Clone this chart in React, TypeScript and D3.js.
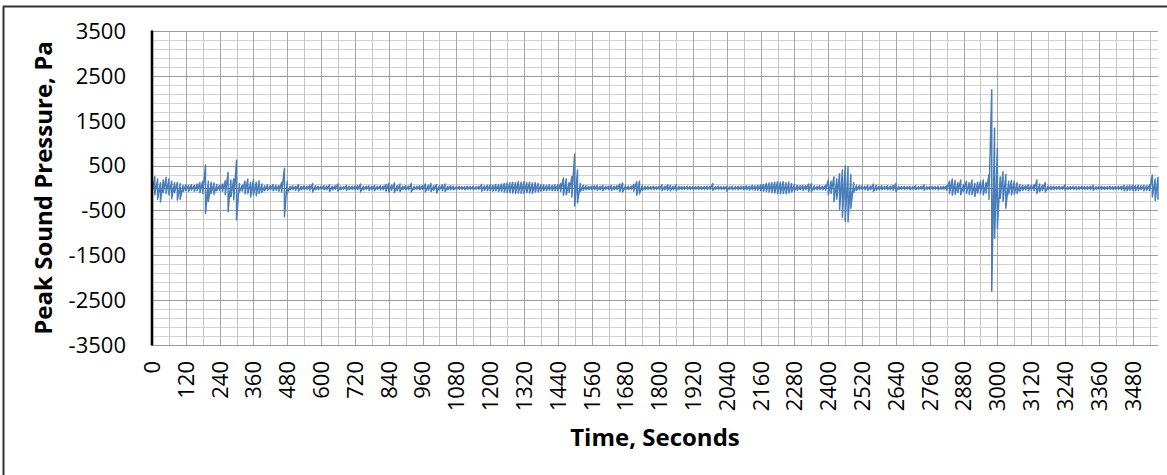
import React from "react";
import * as d3 from "d3";

// Tick values / labels
const yTickValues = [-3500, -2500, -1500, -500, 500, 1500, 2500, 3500];
const xTickLabels = [0, 120, 240, 360, 480, 600, 720, 840, 960, 1080, 1200, 1320, 1440, 1560, 1680, 1800, 1920, 2040, 2160, 2280, 2400, 2520, 2640, 2760, 2880, 3000, 3120, 3240, 3360, 3480];

// Recording: peak (max / min) sound pressure in Pa per 10-second bucket
const bucketSeconds = 10;
const peakHigh = [
  150, 250, 200, 120, 180, 240, 200, 150, 120, 125, 100, 60,
  70, 60, 80, 60, 90, 120, 150, 510, 150, 130, 110, 80,
  60, 90, 160, 350, 180, 200, 620, 100, 60, 150, 200, 120,
  180, 130, 160, 90, 50, 70, 50, 80, 60, 50, 120, 440,
  150, 40, 50, 40, 80, 40, 50, 40, 60, 100, 50, 40,
  40, 50, 40, 70, 40, 50, 90, 40, 30, 60, 40, 40,
  40, 50, 90, 40, 40, 50, 40, 60, 40, 50, 40, 80,
  100, 60, 110, 50, 90, 40, 50, 40, 100, 40, 40, 50,
  50, 90, 60, 100, 50, 80, 50, 70, 90, 40, 50, 40,
  30, 40, 30, 30, 40, 30, 40, 30, 40, 80, 50, 60,
  70, 60, 80, 70, 90, 100, 110, 120, 130, 120, 140, 130,
  140, 120, 130, 110, 120, 100, 80, 70, 60, 70, 60, 70,
  70, 100, 220, 200, 120, 250, 760, 400, 100, 60, 50, 40,
  40, 50, 60, 40, 60, 40, 40, 60, 40, 50, 90, 110,
  50, 40, 40, 80, 140, 150, 60, 40, 40, 30, 40, 30,
  40, 70, 40, 70, 60, 40, 70, 40, 30, 30, 40, 30,
  30, 30, 40, 30, 30, 40, 30, 100, 30, 40, 30, 30,
  40, 30, 40, 30, 40, 40, 40, 50, 40, 60, 50, 60,
  70, 80, 100, 110, 120, 130, 140, 130, 140, 120, 130, 100,
  80, 60, 50, 60, 50, 90, 100, 50, 40, 50, 40, 60,
  180, 150, 250, 200, 320, 400, 490, 470, 300, 120, 60, 50,
  50, 40, 60, 40, 90, 60, 40, 50, 40, 50, 40, 60,
  100, 40, 30, 40, 30, 40, 30, 50, 30, 40, 70, 30,
  30, 40, 30, 40, 30, 40, 50, 150, 200, 170, 120, 180,
  80, 150, 120, 180, 100, 130, 150, 180, 120, 300, 2190, 1330,
  880, 250, 360, 300, 150, 170, 150, 120, 80, 60, 50, 70,
  60, 70, 180, 90, 60, 120, 50, 40, 40, 30, 40, 30,
  70, 30, 30, 40, 30, 30, 40, 30, 30, 40, 60, 30,
  30, 40, 30, 30, 40, 30, 30, 40, 40, 60, 50, 60,
  60, 50, 60, 50, 60, 50, 70, 290, 200, 240,
];
const peakLow = [
  -120, -150, -250, -310, -100, -120, -150, -240, -100, -270, -250, -80,
  -60, -80, -50, -70, -60, -100, -120, -570, -300, -120, -140, -60,
  -50, -80, -150, -530, -200, -260, -710, -90, -70, -130, -120, -200,
  -150, -170, -120, -100, -60, -50, -40, -60, -50, -70, -90, -640,
  -120, -40, -40, -50, -70, -40, -40, -30, -50, -90, -40, -40,
  -30, -40, -40, -80, -40, -30, -70, -40, -30, -50, -40, -30,
  -40, -40, -90, -40, -30, -50, -40, -60, -30, -40, -40, -70,
  -90, -50, -100, -60, -80, -40, -40, -40, -90, -40, -30, -40,
  -40, -90, -50, -80, -50, -110, -40, -60, -80, -40, -40, -40,
  -30, -30, -30, -40, -30, -30, -40, -30, -30, -70, -50, -60,
  -60, -70, -60, -80, -70, -90, -100, -100, -110, -120, -110, -120,
  -120, -100, -110, -120, -90, -90, -70, -60, -60, -50, -60, -60,
  -60, -80, -160, -150, -100, -200, -400, -330, -80, -50, -40, -40,
  -40, -40, -50, -40, -60, -30, -40, -50, -40, -40, -80, -90,
  -40, -40, -30, -70, -160, -130, -50, -40, -30, -30, -30, -30,
  -30, -60, -40, -50, -60, -40, -60, -30, -30, -30, -30, -30,
  -30, -30, -30, -30, -30, -30, -30, -50, -30, -30, -30, -30,
  -70, -30, -40, -30, -40, -30, -40, -40, -50, -40, -50, -50,
  -60, -70, -80, -90, -100, -110, -120, -130, -120, -130, -110, -90,
  -70, -50, -40, -50, -40, -80, -90, -40, -40, -40, -40, -50,
  -155, -120, -305, -250, -480, -650, -740, -760, -450, -100, -50, -40,
  -40, -40, -50, -40, -80, -50, -40, -40, -30, -40, -40, -50,
  -80, -30, -30, -30, -30, -40, -30, -40, -30, -30, -50, -30,
  -30, -30, -30, -40, -30, -30, -50, -120, -160, -140, -100, -150,
  -70, -120, -140, -150, -190, -110, -120, -150, -110, -250, -2300, -1120,
  -900, -230, -300, -450, -130, -150, -140, -120, -70, -50, -40, -60,
  -50, -60, -120, -80, -50, -90, -40, -40, -30, -30, -30, -30,
  -50, -30, -30, -30, -30, -30, -30, -30, -30, -30, -50, -30,
  -30, -30, -30, -30, -30, -30, -30, -30, -40, -60, -60, -50,
  -50, -60, -50, -40, -60, -50, -60, -200, -280, -260,
];

const W = 1167;
const H = 475;
const M = { left: 152, right: 1158, top: 31, bottom: 345 };
const X_MAX = 3570;

export default function App() {
  const x = d3.scaleLinear().domain([0, X_MAX]).range([M.left, M.right]);
  const y = d3.scaleLinear().domain([-3500, 3500]).range([M.bottom, M.top]);
  const crisp = (v: number) => Math.round(v) + 0.5;

  const minorY = d3.range(-3500, 3501, 200).filter((v) => !yTickValues.includes(v));
  const vLines = d3.range(60, X_MAX, 60);

  const pts: [number, number][] = [];
  peakHigh.forEach((hi, i) => {
    const t = i * bucketSeconds;
    pts.push([t, hi]);
    pts.push([t, peakLow[i]]);
  });
  const line = d3
    .line<[number, number]>()
    .x((d) => x(d[0]))
    .y((d) => y(d[1]));

  const font = "'Open Sans', 'Noto Sans', sans-serif";

  return (
    <svg
      width={W}
      height={H}
      style={{ position: "absolute", left: 0, top: 0, background: "#fff" }}
    >
      <rect x={0} y={0} width={W} height={H} fill="#fff" />
      {/* frame */}
      <line x1={3.5} x2={3.5} y1={6} y2={H} stroke="#333" strokeWidth={2} />
      <line x1={3} x2={W} y1={6.5} y2={6.5} stroke="#333" strokeWidth={2} />

      {/* gridlines */}
      <g shapeRendering="crispEdges">
        {minorY.map((v) => (
          <line key={"my" + v} x1={M.left} x2={M.right} y1={crisp(y(v))} y2={crisp(y(v))} stroke="#d2d2d2" strokeWidth={1} />
        ))}
        {vLines.map((v) => (
          <line key={"vx" + v} x1={crisp(x(v))} x2={crisp(x(v))} y1={M.top} y2={M.bottom} stroke={v % 120 === 0 ? "#a6a6a6" : "#c4c4c4"} strokeWidth={1} />
        ))}
        {yTickValues.map((v) => (
          <line key={"My" + v} x1={M.left} x2={M.right} y1={crisp(y(v))} y2={crisp(y(v))} stroke="#9a9a9a" strokeWidth={1} />
        ))}
        {/* horizontal axis at zero */}
        <line x1={M.left} x2={M.right} y1={crisp(y(0))} y2={crisp(y(0))} stroke="#868686" strokeWidth={1} />
      </g>

      {/* data */}
      <path d={line(pts) || ""} fill="none" stroke="#4a7ebb" strokeWidth={1.5} strokeLinejoin="round" />

      {/* y axis */}
      <line x1={M.left} x2={M.left} y1={M.top - 0.5} y2={M.bottom + 0.5} stroke="#000" strokeWidth={2.6} />

      {/* y tick labels */}
      <g fontFamily={font} fontSize={22} fill="#000">
        {yTickValues.map((v) => (
          <text key={"yl" + v} x={126} y={y(v)} dy="0.36em" textAnchor="end">
            {v}
          </text>
        ))}
      </g>

      {/* x tick labels */}
      <g fontFamily={font} fontSize={22} fill="#000">
        {xTickLabels.map((v) => (
          <text
            key={"xl" + v}
            transform={`translate(${x(v)},${361}) rotate(-90)`}
            dy="0.36em"
            textAnchor="end"
          >
            {v}
          </text>
        ))}
      </g>

      {/* axis titles */}
      <text
        transform={`translate(52,${(M.top + M.bottom) / 2}) rotate(-90)`}
        textAnchor="middle"
        fontFamily={font}
        fontWeight="bold"
        fontSize={24}
        fill="#000"
      >
        Peak Sound Pressure, Pa
      </text>
      <text
        x={(M.left + M.right) / 2}
        y={446}
        textAnchor="middle"
        fontFamily={font}
        fontWeight="bold"
        fontSize={24}
        fill="#000"
      >
        Time, Seconds
      </text>
    </svg>
  );
}
